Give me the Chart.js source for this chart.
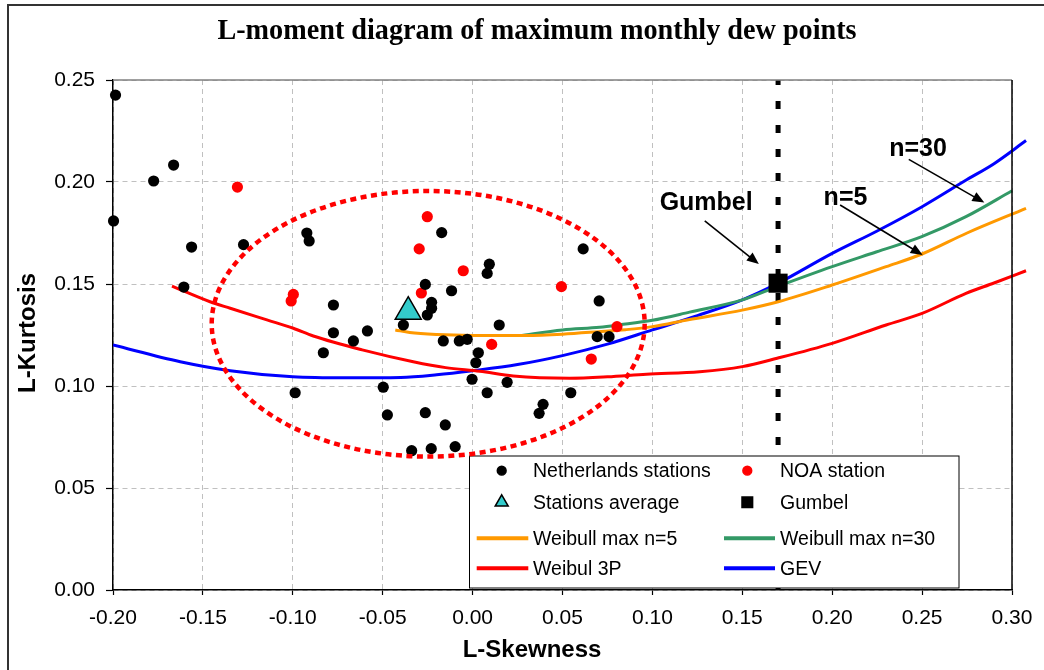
<!DOCTYPE html>
<html>
<head>
<meta charset="utf-8">
<title>L-moment diagram</title>
<script src="https://cdn.jsdelivr.net/npm/chart.js@4.4.1/dist/chart.umd.min.js"></script>
<style>
  html, body { margin: 0; padding: 0; background: #fff; }
  #wrap { width: 1044px; height: 670px; }
</style>
</head>
<body>
<div id="wrap"><canvas id="lmom" width="1044" height="670"></canvas></div>
<script>
// --- data (x = L-Skewness, y = L-Kurtosis) ---
const nlSkew = [-0.1986, -0.1774, -0.1663, -0.1997, -0.1563, -0.1274, -0.0922, -0.0909, -0.1606, -0.0774,
  -0.0774, -0.0663, -0.0585, -0.0830, -0.0987, -0.0497, -0.0474, -0.0263, -0.0152, -0.0339,
  -0.0230, -0.0097, -0.0385, -0.0172, -0.0263, -0.0117, -0.0228, -0.0228, -0.0252, -0.0163,
  -0.0074, -0.0030, 0.0032, 0.0018, -0.0003, 0.0093, 0.0081, 0.0148, 0.0081, 0.0192,
  0.0392, 0.0370, 0.0546, 0.0615, 0.0704, 0.0693, 0.0759];
const nlKurt = [0.2426, 0.2005, 0.2083, 0.1809, 0.1681, 0.1693, 0.1750, 0.1711, 0.1485, 0.1397,
  0.1261, 0.1221, 0.1270, 0.1163, 0.0967, 0.0994, 0.0858, 0.0869, 0.0809, 0.0683,
  0.0693, 0.0703, 0.1299, 0.1752, 0.1498, 0.1467, 0.1410, 0.1381, 0.1348, 0.1221,
  0.1221, 0.1229, 0.1163, 0.1114, 0.1033, 0.1597, 0.1552, 0.1299, 0.0967, 0.1018,
  0.0910, 0.0866, 0.0967, 0.1672, 0.1417, 0.1242, 0.1242];

const noaSkew = [-0.1308, -0.0997, -0.1009, -0.0252, -0.0297, -0.0052, -0.0285, 0.0106, 0.0494, 0.0803, 0.0660];
const noaKurt = [0.1975, 0.1449, 0.1417, 0.1830, 0.1672, 0.1565, 0.1456, 0.1204, 0.1487, 0.1291, 0.1132];

const avgSkew = [-0.0358];
const avgKurt = [0.1364];

const gumbelSkew = [0.1699];
const gumbelKurt = [0.1504];

const w5Skew = [-0.043, -0.035, -0.02, 0.0, 0.03, 0.05, 0.07, 0.085, 0.10, 0.12, 0.15, 0.17, 0.20, 0.23, 0.25, 0.275, 0.3078];
const w5Kurt = [0.1275, 0.1262, 0.1252, 0.1248, 0.1248, 0.1254, 0.1266, 0.1276, 0.1291, 0.1325, 0.1372, 0.1413, 0.1495, 0.1585, 0.1647, 0.1750, 0.1871];

const w30Skew = [0.0259, 0.05, 0.0707, 0.0819, 0.10, 0.1207, 0.15, 0.1694, 0.20, 0.2244, 0.2498, 0.2744, 0.30];
const w30Kurt = [0.1247, 0.1275, 0.1288, 0.1300, 0.1322, 0.1362, 0.1422, 0.1487, 0.1585, 0.1657, 0.1732, 0.1830, 0.1957];

const w3pSkew = [-0.1672, -0.146, -0.1348, -0.1144, -0.0997, -0.0886, -0.0608, -0.033, -0.015, 0.004, 0.0226, 0.054,
  0.075, 0.0967, 0.1263, 0.15, 0.1694, 0.20, 0.23, 0.25, 0.2744, 0.2900, 0.3078];
const w3pKurt = [0.1490, 0.1413, 0.1381, 0.1324, 0.1283, 0.1245, 0.1176, 0.1119, 0.1090, 0.1072, 0.1049, 0.1038,
  0.1045, 0.1058, 0.1070, 0.1095, 0.1136, 0.1209, 0.1299, 0.1356, 0.1454, 0.1505, 0.1565];

const gevSkew = [-0.2, -0.1626, -0.1348, -0.10, -0.07, -0.04, -0.02, 0.0, 0.025, 0.05, 0.075, 0.10, 0.125, 0.15,
  0.17, 0.20, 0.225, 0.25, 0.275, 0.29, 0.3078];
const gevKurt = [0.1201, 0.1119, 0.1075, 0.1045, 0.1040, 0.1042, 0.1055, 0.1075, 0.1105, 0.1149, 0.1205, 0.1275, 0.1345, 0.1422,
  0.1504, 0.1650, 0.1760, 0.1879, 0.2012, 0.2090, 0.2203];

// vertical marker through the Gumbel point
const gumbelLineSkew = [0.1699, 0.1699];
const gumbelLineKurt = [0.25, 0.0];

// tick labels
const xTicks = ["-0.20", "-0.15", "-0.10", "-0.05", "0.00", "0.05", "0.10", "0.15", "0.20", "0.25", "0.30"];
const yTicks = ["0.00", "0.05", "0.10", "0.15", "0.20", "0.25"];

// dotted ellipse round the station cloud (data units)
const cloud = { cx: -0.0247, cy: 0.1305, rx: 0.1204, ry: 0.0651 };

// annotations: text position and arrow from/to (data units)
const notes = [
  { text: "Gumbel", at: [0.1299, 0.1897], from: [0.1291, 0.1810], to: [0.1592, 0.1598] },
  { text: "n=5", at: [0.2074, 0.1922], from: [0.2044, 0.1887], to: [0.2503, 0.1642] },
  { text: "n=30", at: [0.2477, 0.2162], from: [0.2426, 0.2111], to: [0.2846, 0.1899] }
];

const SANS = '"Liberation Sans", Arial, sans-serif';
const SERIF = '"Liberation Serif", "Times New Roman", serif';

const pts = (xs, ys) => xs.map((x, i) => ({ x: x, y: ys[i] }));

function markerPath(ctx, style, r, x, y) {
  ctx.beginPath();
  if (style === "circle") {
    ctx.arc(x, y, r, 0, Math.PI * 2);
  } else if (style === "triangle") {
    ctx.moveTo(x, y - r);
    ctx.lineTo(x + r * Math.sin(Math.PI / 3), y + r / 2);
    ctx.lineTo(x - r * Math.sin(Math.PI / 3), y + r / 2);
    ctx.closePath();
  } else {
    const s = r * Math.SQRT1_2;
    ctx.rect(x - s, y - s, 2 * s, 2 * s);
  }
}

function arrow(ctx, x1, y1, x2, y2) {
  const ang = Math.atan2(y2 - y1, x2 - x1);
  const hl = 12, hw = 5;
  ctx.beginPath();
  ctx.moveTo(x1, y1);
  ctx.lineTo(x2 - Math.cos(ang) * hl * 0.8, y2 - Math.sin(ang) * hl * 0.8);
  ctx.stroke();
  ctx.beginPath();
  ctx.moveTo(x2, y2);
  ctx.lineTo(x2 - Math.cos(ang) * hl + Math.sin(ang) * hw, y2 - Math.sin(ang) * hl - Math.cos(ang) * hw);
  ctx.lineTo(x2 - Math.cos(ang) * hl - Math.sin(ang) * hw, y2 - Math.sin(ang) * hl + Math.cos(ang) * hw);
  ctx.closePath();
  ctx.fill();
}

const decor = {
  id: "decor",
  beforeDraw(chart) {
    const ctx = chart.ctx;
    ctx.save();
    ctx.fillStyle = "#fff";
    ctx.fillRect(0, 0, chart.width, chart.height);
    ctx.strokeStyle = "#333";
    ctx.lineWidth = 2;
    ctx.beginPath();
    ctx.moveTo(8, chart.height);
    ctx.lineTo(8, 5);
    ctx.lineTo(chart.width, 5);
    ctx.stroke();
    ctx.restore();
  },
  afterDraw(chart) {
    const { ctx, chartArea: a, scales } = chart;
    const px = v => scales.x.getPixelForValue(v);
    const py = v => scales.y.getPixelForValue(v);
    ctx.save();

    // plot frame (top grey, right black)
    ctx.lineWidth = 1.5;
    ctx.strokeStyle = "#808080";
    ctx.beginPath(); ctx.moveTo(a.left, a.top); ctx.lineTo(a.right, a.top); ctx.stroke();
    ctx.strokeStyle = "#000";
    ctx.beginPath(); ctx.moveTo(a.right, a.top); ctx.lineTo(a.right, a.bottom); ctx.stroke();

    // titles
    ctx.fillStyle = "#000";
    ctx.textAlign = "center";
    ctx.textBaseline = "middle";
    ctx.save();
    ctx.translate(537, 31);
    ctx.scale(0.94, 1);
    ctx.font = "bold 30px " + SERIF;
    ctx.fillText("L-moment diagram of maximum monthly dew points", 0, 0);
    ctx.restore();
    ctx.font = "bold 24px " + SANS;
    ctx.fillText("L-Skewness", 532, 650);
    ctx.save();
    ctx.translate(28.5, 333);
    ctx.rotate(-Math.PI / 2);
    ctx.fillText("L-Kurtosis", 0, 0);
    ctx.restore();

    // legend box
    const box = { x: 469.5, y: 456, w: 489.5, h: 132 };
    const colMark = [501.7, 747.3], colText = [533, 780];
    const colLine = [[476.7, 528.3], [724, 775]];
    const rowY = [470.7, 502.3, 538.3, 568.3];
    ctx.fillStyle = "#fff";
    ctx.fillRect(box.x, box.y, box.w, box.h);
    ctx.strokeStyle = "#000";
    ctx.lineWidth = 1;
    ctx.strokeRect(box.x, box.y, box.w, box.h);
    const sizes = { circle: 4.4, triangle: 7.5, rect: 7.5 };
    for (let i = 0; i < 8; i++) {
      const ds = chart.data.datasets[i];
      const c = i % 2, r = Math.floor(i / 2);
      const y = rowY[r];
      if (ds.showLine) {
        ctx.strokeStyle = ds.borderColor;
        ctx.lineWidth = 4;
        ctx.beginPath(); ctx.moveTo(colLine[c][0], y); ctx.lineTo(colLine[c][1], y); ctx.stroke();
      } else {
        markerPath(ctx, ds.pointStyle, sizes[ds.pointStyle], colMark[c], y);
        ctx.fillStyle = ds.backgroundColor;
        ctx.fill();
        ctx.strokeStyle = ds.borderColor;
        ctx.lineWidth = 1.5;
        ctx.stroke();
      }
      ctx.fillStyle = "#000";
      ctx.font = "19.5px " + SANS;
      ctx.textAlign = "left";
      ctx.textBaseline = "middle";
      ctx.fillText(ds.label, colText[c], y + 1);
    }

    // dotted ellipse
    const cx = px(cloud.cx), cy = py(cloud.cy);
    const rx = Math.abs(px(cloud.cx + cloud.rx) - cx), ry = Math.abs(py(cloud.cy + cloud.ry) - cy);
    ctx.strokeStyle = "#ff0000";
    ctx.lineWidth = 4.5;
    ctx.setLineDash([6, 4.5]);
    ctx.beginPath();
    ctx.ellipse(cx, cy, rx, ry, 0, 0, Math.PI * 2);
    ctx.stroke();
    ctx.setLineDash([]);

    // annotations
    ctx.fillStyle = "#000";
    ctx.strokeStyle = "#000";
    ctx.lineWidth = 1.6;
    ctx.font = "bold 25px " + SANS;
    ctx.textAlign = "center";
    ctx.textBaseline = "middle";
    notes.forEach(n => {
      ctx.fillText(n.text, px(n.at[0]), py(n.at[1]));
      arrow(ctx, px(n.from[0]), py(n.from[1]), px(n.to[0]), py(n.to[1]));
    });
    ctx.restore();
  }
};

const lineSet = (label, xs, ys, color) => ({
  label: label,
  data: pts(xs, ys),
  showLine: true,
  borderColor: color,
  backgroundColor: color,
  borderWidth: 3,
  pointRadius: 0,
  pointHoverRadius: 0,
  cubicInterpolationMode: "monotone",
  clip: { left: 0, top: 0, right: 20, bottom: 0 }
});

new Chart(document.getElementById("lmom"), {
  type: "scatter",
  data: {
    datasets: [
      { label: "Netherlands stations", data: pts(nlSkew, nlKurt), pointStyle: "circle", pointRadius: 5.6,
        backgroundColor: "#000", borderColor: "#000", borderWidth: 0, showLine: false, clip: false },
      { label: "NOA station", data: pts(noaSkew, noaKurt), pointStyle: "circle", pointRadius: 5.6,
        backgroundColor: "#ff0000", borderColor: "#ff0000", borderWidth: 0, showLine: false, clip: false },
      { label: "Stations average", data: pts(avgSkew, avgKurt), pointStyle: "triangle", pointRadius: 15,
        backgroundColor: "#33cccc", borderColor: "#000", borderWidth: 1.5, showLine: false, clip: false },
      { label: "Gumbel", data: pts(gumbelSkew, gumbelKurt), pointStyle: "rect", pointRadius: 13.5,
        backgroundColor: "#000", borderColor: "#000", borderWidth: 0, showLine: false, clip: false },
      lineSet("Weibull max n=5", w5Skew, w5Kurt, "#ff9900"),
      lineSet("Weibull max n=30", w30Skew, w30Kurt, "#339966"),
      lineSet("Weibul 3P", w3pSkew, w3pKurt, "#ff0000"),
      lineSet("GEV", gevSkew, gevKurt, "#0000ff"),
      { label: "Gumbel line", data: pts(gumbelLineSkew, gumbelLineKurt), showLine: true,
        borderColor: "#000", borderWidth: 5, borderDash: [8, 16], borderDashOffset: 3,
        pointRadius: 0, pointHoverRadius: 0 }
    ]
  },
  options: {
    responsive: false,
    animation: false,
    devicePixelRatio: 1,
    events: [],
    layout: { padding: { left: 0, top: 80, right: 32, bottom: 0 } },
    scales: {
      x: {
        type: "linear",
        min: -0.2,
        max: 0.3,
        afterFit: s => { s.height = 80; },
        ticks: {
          stepSize: 0.05,
          autoSkip: false,
          maxRotation: 0,
          padding: 11,
          color: "#000",
          font: { family: SANS, size: 21 },
          callback: (v, i) => xTicks[i]
        },
        grid: { color: "#c0c0c0", lineWidth: 1, tickLength: 5, tickColor: "#000", tickWidth: 1.2 },
        border: { color: "#000", width: 1.5, dash: [5, 4] }
      },
      y: {
        type: "linear",
        min: 0,
        max: 0.25,
        afterFit: s => { s.width = 113; },
        ticks: {
          stepSize: 0.05,
          padding: 11,
          color: "#000",
          font: { family: SANS, size: 21 },
          callback: (v, i) => yTicks[i]
        },
        grid: { color: "#c0c0c0", lineWidth: 1, tickLength: 7, tickColor: "#000", tickWidth: 1.2 },
        border: { color: "#000", width: 1.5, dash: [5, 4] }
      }
    },
    plugins: {
      legend: { display: false },
      title: { display: false },
      tooltip: { enabled: false }
    }
  },
  plugins: [decor]
});
</script>
</body>
</html>
